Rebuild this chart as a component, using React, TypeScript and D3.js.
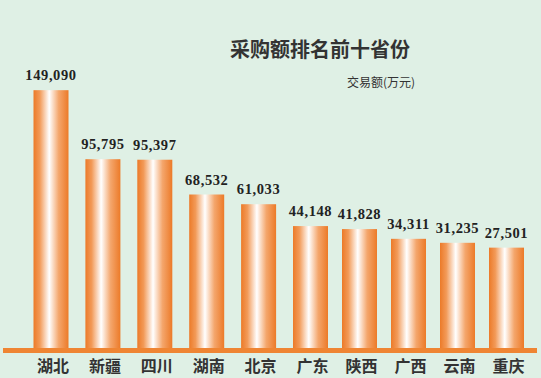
import React from "react";
import * as d3 from "d3";

const provinces = ["湖北", "新疆", "四川", "湖南", "北京", "广东", "陕西", "广西", "云南", "重庆"];
const amounts = [149090, 95795, 95397, 68532, 61033, 44148, 41828, 34311, 31235, 27501];
const title = "采购额排名前十省份";
const unitLabel = "交易额(万元)";

const W = 541;
const H = 378;

export default function App() {
  const base = 348;
  const idx = provinces.map((_, i) => i);
  // polylinear position scale for bar centres
  const x = d3.scaleLinear().domain([0, 5, 9]).range([51, 310.5, 506.5]);
  const barW = 35;
  const y = d3.scaleLinear().domain([-50000, 150000]).range([base, 89]);
  const fmt = d3.format(",");

  return (
    <svg
      width={W}
      height={H}
      style={{ position: "fixed", left: 0, top: 0, display: "block" }}
    >
      <defs>
        <linearGradient id="barGrad" x1="0" x2="1" y1="0" y2="0">
          <stop offset="0%" stopColor="#ec7a28" />
          <stop offset="18%" stopColor="#f29a58" />
          <stop offset="45%" stopColor="#ffffff" />
          <stop offset="72%" stopColor="#f4a66c" />
          <stop offset="100%" stopColor="#ec7a28" />
        </linearGradient>
      </defs>
      <rect x={0} y={0} width={W} height={H} fill="#dff0e5" />
      <text
        x={320}
        y={57}
        textAnchor="middle"
        fontFamily="'Noto Sans CJK SC', sans-serif"
        fontWeight={700}
        fontSize={20}
        fill="#333"
      >
        {title}
      </text>
      <text
        x={415}
        y={87}
        textAnchor="end"
        fontFamily="'Noto Sans CJK SC', sans-serif"
        fontSize={12}
        fill="#333"
      >
        {unitLabel}
      </text>
      {idx.map((i) => {
        const cx = x(i);
        const top = y(amounts[i]);
        return (
          <g key={provinces[i]}>
            <rect
              x={cx - barW / 2}
              y={top}
              width={barW}
              height={base - top}
              fill="url(#barGrad)"
            />
            <text
              x={cx}
              y={top - 10}
              textAnchor="middle"
              fontFamily="'Liberation Serif', 'Times New Roman', serif"
              fontWeight={700}
              fontSize={14.5}
              letterSpacing={0.6}
              fill="#222"
            >
              {fmt(amounts[i])}
            </text>
            <text
              x={cx + 2}
              y={372}
              textAnchor="middle"
              fontFamily="'Noto Sans CJK SC', sans-serif"
              fontWeight={700}
              fontSize={16}
              fill="#333"
            >
              {provinces[i]}
            </text>
          </g>
        );
      })}
      <rect x={3} y={348} width={534} height={5} fill="#ef8533" />
    </svg>
  );
}
